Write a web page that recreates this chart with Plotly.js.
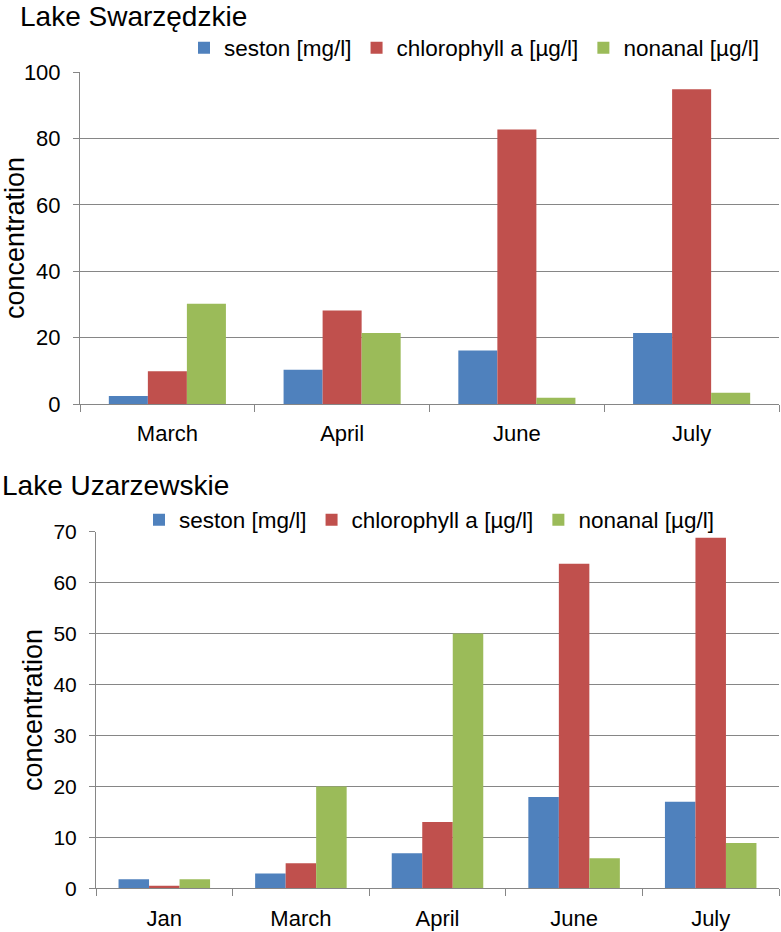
<!DOCTYPE html>
<html>
<head>
<meta charset="utf-8">
<script src="https://cdn.plot.ly/plotly-3.0.1.min.js"></script>
<style>
  html, body { margin: 0; padding: 0; background: #fff; }
  #plotArea { width: 781px; height: 932px; }
</style>
</head>
<body>
<div id="plotArea"></div>
<script>
var topMonths = ["March", "April", "June", "July"];
var topSeston = [2.4, 10.3, 16.1, 21.4];
var topChl = [9.9, 28.2, 82.7, 94.8];
var topNonanal = [30.2, 21.4, 1.9, 3.4];

var botMonths = ["Jan", "March", "April", "June", "July"];
var botSeston = [1.8, 2.9, 6.9, 17.9, 17.0];
var botChl = [0.5, 4.9, 13.0, 63.7, 68.8];
var botNonanal = [1.8, 20.0, 50.0, 5.9, 8.9];

var seriesNames = ["seston [mg/l]", "chlorophyll a [µg/l]", "nonanal [µg/l]"];
var colors = ["#4F81BD", "#C0504D", "#9BBB59"];

var font = "Liberation Sans, Arial, Helvetica, sans-serif";

function bars(x, ys, xa, ya, legend) {
  return ys.map(function (y, i) {
    return {
      type: "bar",
      x: x,
      y: y,
      name: seriesNames[i],
      marker: { color: colors[i], line: { width: 0 } },
      xaxis: xa,
      yaxis: ya,
      legend: legend,
      hoverinfo: "x+y+name"
    };
  });
}

var data = bars(topMonths, [topSeston, topChl, topNonanal], "x", "y", "legend")
  .concat(bars(botMonths, [botSeston, botChl, botNonanal], "x2", "y2", "legend2"));

var grid = "#868686";

function xaxis(domain, anchor) {
  return {
    domain: domain,
    anchor: anchor,
    type: "category",
    showline: true,
    linecolor: grid,
    linewidth: 1,
    ticks: "outside",
    tickson: "boundaries",
    ticklen: 7,
    tickcolor: grid,
    showgrid: false,
    ticklabelstandoff: 10,
    tickfont: { family: font, size: 22, color: "#000" }
  };
}

function yaxis(domain, anchor, range, dtick, size) {
  return {
    domain: domain,
    anchor: anchor,
    range: range,
    dtick: dtick,
    showline: true,
    linecolor: grid,
    linewidth: 1,
    ticks: "outside",
    ticklen: 6,
    tickcolor: grid,
    showgrid: true,
    gridcolor: grid,
    gridwidth: 1,
    zeroline: false,
    ticklabelstandoff: 8,
    tickfont: { family: font, size: size, color: "#000" },
    title: { text: "concentration", font: { family: font, size: 27, color: "#000" }, standoff: 2 }
  };
}

var layout = {
  width: 781,
  height: 932,
  margin: { l: 0, r: 0, t: 0, b: 0 },
  paper_bgcolor: "#fff",
  plot_bgcolor: "#fff",
  bargap: 0.33,
  bargroupgap: 0,
  font: { family: font, color: "#000" },
  xaxis: xaxis([80 / 781, 779 / 781], "y"),
  yaxis: yaxis([528 / 932, 860 / 932], "x", [0, 100], 20, 22),
  xaxis2: xaxis([96 / 781, 779 / 781], "y2"),
  yaxis2: yaxis([43.7 / 932, 400.3 / 932], "x2", [0, 70], 10, 21),
  legend: {
    orientation: "h",
    x: 184 / 781,
    y: (932 - 48) / 932,
    xanchor: "left",
    yanchor: "middle",
    font: { family: font, size: 22.5, color: "#000" },
    bgcolor: "rgba(0,0,0,0)"
  },
  legend2: {
    orientation: "h",
    x: 139 / 781,
    y: (932 - 520) / 932,
    xanchor: "left",
    yanchor: "middle",
    font: { family: font, size: 22.5, color: "#000" },
    bgcolor: "rgba(0,0,0,0)"
  },
  annotations: [
    {
      text: "Lake Swarzędzkie",
      xref: "paper", yref: "paper",
      x: 18 / 781, y: (932 - 17) / 932,
      xanchor: "left", yanchor: "middle",
      showarrow: false,
      font: { family: font, size: 28, color: "#000" }
    },
    {
      text: "Lake Uzarzewskie",
      xref: "paper", yref: "paper",
      x: 0, y: (932 - 485) / 932,
      xanchor: "left", yanchor: "middle",
      showarrow: false,
      font: { family: font, size: 28, color: "#000" }
    }
  ]
};

Plotly.newPlot("plotArea", data, layout, { displayModeBar: false });
</script>
</body>
</html>
